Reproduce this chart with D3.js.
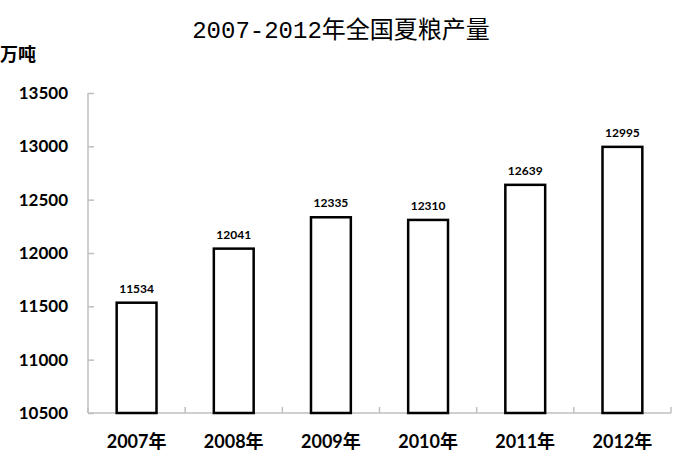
<!DOCTYPE html>
<html><head><meta charset="utf-8">
<script src="https://cdn.jsdelivr.net/npm/d3@7"></script>
<style>body{margin:0;background:#fff}svg{display:block}</style>
</head><body>
<svg id="c" width="679" height="470"></svg>
<script>
const categories = ["2007年","2008年","2009年","2010年","2011年","2012年"];
const values = [11534, 12041, 12335, 12310, 12639, 12995];
const yTicks = [10500, 11000, 11500, 12000, 12500, 13000, 13500];
const title = "2007-2012年全国夏粮产量";
const unit = "万吨";

(function(){
const svg = d3.select("#c");
const mL = 88, mR = 671, mT = 93, mB = 413;
const x = d3.scaleBand().domain(categories).range([mL, mR]).paddingInner(0.59).paddingOuter(0.295);
const y = d3.scaleLinear().domain([10500, 13500]).range([mB, mT]);
const lab = "Lato, 'Open Sans', 'Noto Sans CJK SC', sans-serif";

svg.append("text").attr("x", 341).attr("y", 38).attr("text-anchor", "middle")
  .attr("font-family", "'Liberation Mono', 'Noto Sans CJK SC', monospace").attr("font-size", 24)
  .attr("fill", "#000").text(title);
svg.append("text").attr("x", 0).attr("y", 61).attr("font-family", "'Noto Sans CJK SC', sans-serif")
  .attr("font-size", 18).attr("font-weight", "bold").attr("fill", "#000").text(unit);

// y axis
const ya = svg.append("g").attr("transform", `translate(${mL},0)`)
  .call(d3.axisRight(y).tickValues(yTicks).tickSize(6).tickFormat(""));
ya.select(".domain").attr("stroke", "#bfbfbf").attr("stroke-width", 1.5).attr("d", `M0,${mT}V${mB}`);
ya.selectAll(".tick line").attr("stroke", "#bfbfbf").attr("stroke-width", 1.5);
svg.append("g").selectAll("text").data(yTicks).join("text")
  .attr("x", 68).attr("y", d => y(d)).attr("dy", "0.35em").attr("text-anchor", "end")
  .attr("font-family", lab).attr("font-weight", "bold").attr("font-size", 17).attr("fill", "#000")
  .text(d => d);

// x axis
const xa = svg.append("g").attr("transform", `translate(0,${mB})`);
xa.append("path").attr("d", `M${mL},0H${mR}`).attr("stroke", "#bfbfbf").attr("stroke-width", 1.5);
const bounds = categories.map((c, i) => mL + i * (mR - mL) / categories.length).concat([mR]);
xa.selectAll("line").data(bounds).join("line")
  .attr("x1", d => d).attr("x2", d => d).attr("y1", 0).attr("y2", -6)
  .attr("stroke", "#bfbfbf").attr("stroke-width", 1.5);
svg.append("g").selectAll("text").data(categories).join("text")
  .attr("x", d => x(d) + x.bandwidth() / 2).attr("y", 448).attr("text-anchor", "middle")
  .attr("font-family", lab).attr("font-weight", "bold").attr("font-size", 18).attr("fill", "#000")
  .text(d => d);

// bars
svg.append("g").selectAll("rect").data(values).join("rect")
  .attr("x", (d, i) => x(categories[i])).attr("width", x.bandwidth())
  .attr("y", d => y(d)).attr("height", d => y(10500) - y(d))
  .attr("fill", "#fff").attr("stroke", "#000").attr("stroke-width", 2.5);

svg.append("g").selectAll("text").data(values).join("text")
  .attr("x", (d, i) => x(categories[i]) + x.bandwidth() / 2).attr("y", d => y(d) - 10)
  .attr("text-anchor", "middle").attr("font-family", lab).attr("font-weight", "bold")
  .attr("font-size", 12).attr("fill", "#000").text(d => d);
})();
</script>
</body></html>
